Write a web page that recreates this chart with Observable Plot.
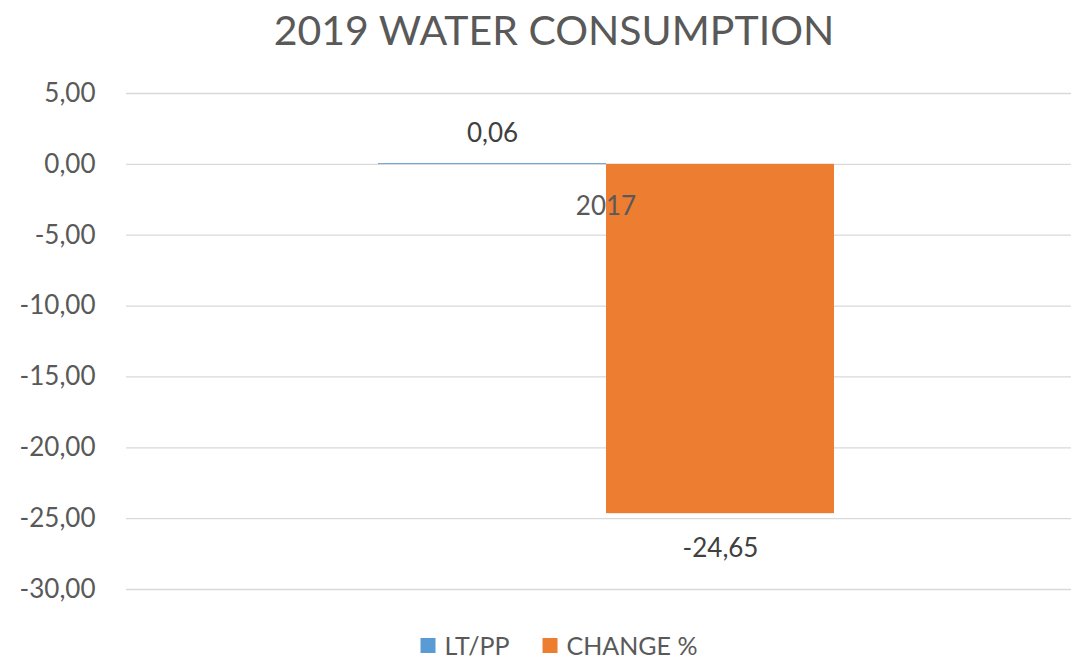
<!DOCTYPE html>
<html>
<head>
<meta charset="utf-8">
<script src="https://cdn.jsdelivr.net/npm/d3@7"></script>
<script src="https://cdn.jsdelivr.net/npm/@observablehq/plot@0.6"></script>
<style>
  html, body { margin: 0; padding: 0; background: #fff; }
  #wrap { position: relative; width: 1071px; height: 661px; font-family: Lato, "Open Sans", sans-serif; }
  #title { position: absolute; top: 5px; left: 554px; transform: translateX(-50%); white-space: nowrap; font-size: 41px; color: #595959; }
  #legend { position: absolute; top: 631px; left: 559px; transform: translateX(-50%); white-space: nowrap; font-size: 25px; line-height: 29px; color: #595959; display: flex; align-items: center; }
  #legend .sw { display: inline-block; width: 15px; height: 15px; margin-right: 9px; }
  #legend .item { display: flex; align-items: center; margin-right: 33px; }
  #legend .item:last-child { margin-right: 0; }
  #chart { position: absolute; top: 0; left: 0; width: 1071px; height: 661px; overflow: hidden; }
</style>
</head>
<body>
<div id="wrap">
  <div id="chart"></div>
  <div id="title"></div>
  <div id="legend"></div>
</div>
<script>
const titleText = "2019 WATER CONSUMPTION";
const categories = ["2017"];
const series = ["LT/PP", "CHANGE %"];
const values = [0.06, -24.65];
const colors = ["#5B9BD5", "#ED7D31"];
const yTicks = [5, 0, -5, -10, -15, -20, -25, -30];

const fmt = v => v.toFixed(2).replace(".", ",");
const data = series.map((s, i) => ({cat: categories[0], series: s, value: values[i]}));

document.getElementById("title").textContent = titleText;
const legend = document.getElementById("legend");
series.forEach((s, i) => {
  const item = document.createElement("span");
  item.className = "item";
  const sw = document.createElement("span");
  sw.className = "sw";
  sw.style.background = colors[i];
  item.appendChild(sw);
  item.appendChild(document.createTextNode(s));
  legend.appendChild(item);
});

const chart = Plot.plot({
  width: 1071,
  height: 661,
  marginLeft: 126,
  marginRight: 0,
  marginTop: 93,
  marginBottom: 72,
  style: {fontFamily: "Lato, 'Open Sans', sans-serif", fontSize: "26px", color: "#595959", background: "transparent"},
  fx: {domain: categories, range: [126, 1085], padding: 0, axis: null, label: null},
  x: {domain: series, paddingInner: 0, paddingOuter: 1.098, axis: null},
  y: {domain: [-30, 5], ticks: yTicks, tickFormat: fmt, tickSize: 0, tickPadding: 31, label: null},
  color: {domain: series, range: colors},
  marks: [
    Plot.gridY(yTicks, {stroke: "#d9d9d9", strokeOpacity: 1, strokeWidth: 1.3}),
    Plot.barY(data, {fx: "cat", x: "series", y: "value", fill: "series"}),
    Plot.text(data.filter(d => d.value >= 0), {fx: "cat", x: "series", y: "value", text: d => fmt(d.value), dy: -30, fill: "#404040"}),
    Plot.text(data.filter(d => d.value < 0), {fx: "cat", x: "series", y: "value", text: d => fmt(d.value), dy: 35, fill: "#404040"}),
    Plot.text(categories, {fx: d => d, y: () => 0, text: d => d, dy: 42, frameAnchor: "middle", fill: "#595959"})
  ]
});
document.getElementById("chart").appendChild(chart);
</script>
</body>
</html>
